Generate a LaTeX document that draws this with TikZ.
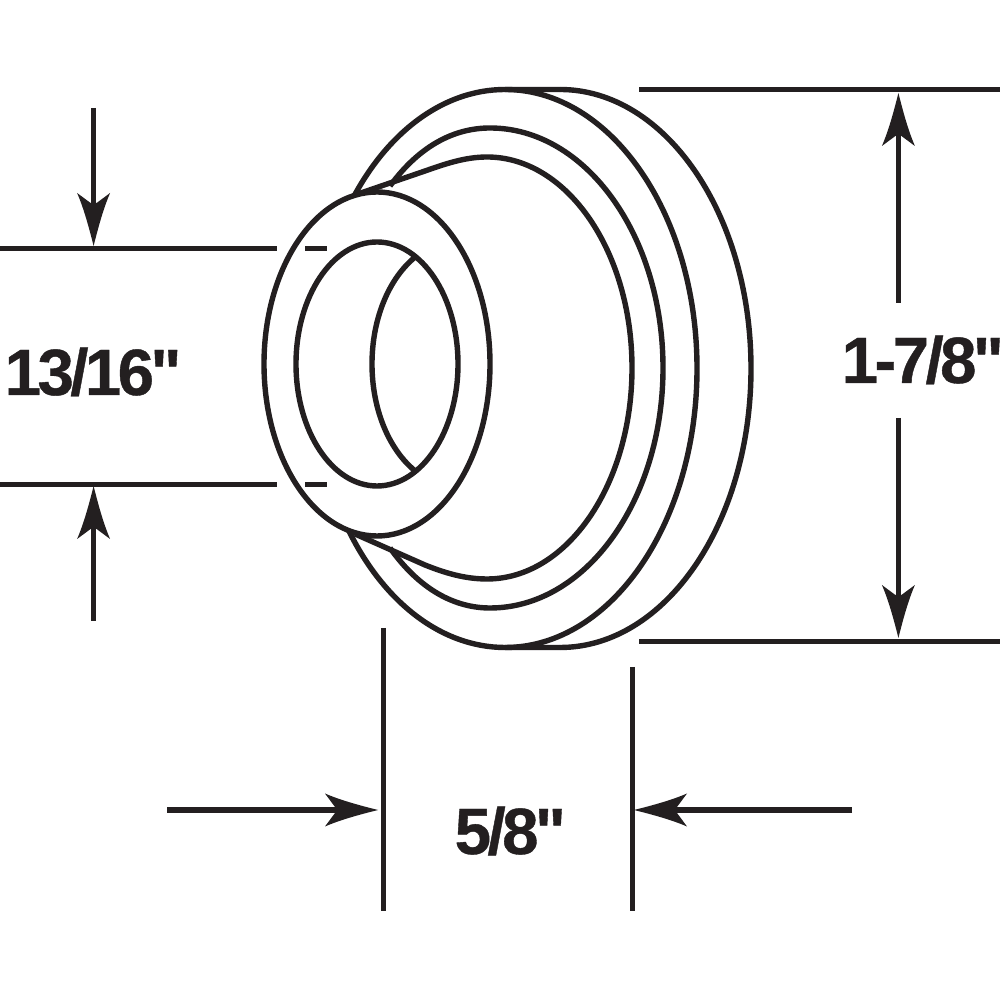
\documentclass[tikz,border=0pt]{standalone}
\usepackage{fontspec}
\setmainfont{Liberation Sans}
\newfontfamily\dimfont[LetterSpace=-5.5,FakeBold=0.6]{Liberation Sans Bold}
\definecolor{ink}{HTML}{231F20}
\tikzset{
  part/.style={draw=ink,line width=0.054cm,line cap=butt,line join=round},
  dimline/.style={draw=ink,line width=0.054cm},
  dimtext/.style={inner sep=0pt,anchor=base west,text=ink,font=\fontsize{18.6}{20}\selectfont\dimfont},
  pics/headtip/.style={code={
    \fill[ink] (0,0) .. controls (-20,5) and (-38,10) .. (-53,16.5)
      -- (-43,3) -- (-43,-3) -- (-53,-16.5)
      .. controls (-38,-10) and (-20,-5) .. (0,0) -- cycle;
  }}
}
\begin{document}
\begin{tikzpicture}[x=0.01cm,y=0.01cm]
\useasboundingbox (0,0) rectangle (1000,1000);
\fill[white] (0,0) rectangle (1000,1000);

% flange
\draw[part] (560,910.5) -- (505,910.5)
  arc[start angle=90,end angle=146,x radius=192,y radius=279];
\draw[part] (560,352.5) -- (505,352.5)
  arc[start angle=-90,end angle=-146,x radius=192,y radius=279];
\draw[part] (505,910.5) arc[start angle=90,end angle=-90,x radius=192,y radius=279];
\draw[part] (560,910.5) arc[start angle=90,end angle=-90,x radius=191,y radius=279];
% step
\draw[part] (390,814) .. controls (420,855) and (455,872) .. (490,872)
  arc[start angle=90,end angle=-90,x radius=173,y radius=240]
  .. controls (455,392) and (420,410) .. (390,452);
% cone
\draw[part] (355,805) -- (425,829) .. controls (445,836) and (465,843) .. (487,843)
  arc[start angle=90,end angle=-90,x radius=145,y radius=211]
  .. controls (465,421) and (445,427) .. (425,435) -- (355,466);
% front face
\draw[part,fill=white] (377,636) ellipse[x radius=113,y radius=172];
\draw[part] (377,636) ellipse[x radius=81,y radius=122];
\draw[part] (414,742) .. controls (388,720) and (372,680) .. (372,636)
  .. controls (372,592) and (388,552) .. (414,530);

% extension lines
\coordinate (la1) at (0,751.5);   \coordinate (la2) at (277,751.5);
\coordinate (la3) at (305,751.5); \coordinate (la4) at (327,751.5);
\coordinate (lb1) at (0,515.5);   \coordinate (lb2) at (277,515.5);
\coordinate (lb3) at (305,515.5); \coordinate (lb4) at (327,515.5);
\coordinate (ra1) at (639,910.5); \coordinate (ra2) at (1000,910.5);
\coordinate (rb1) at (639,358.5); \coordinate (rb2) at (1000,358.5);
\coordinate (ba1) at (383.5,372); \coordinate (ba2) at (383.5,89);
\coordinate (bb1) at (632.3,333); \coordinate (bb2) at (632.3,89);
\draw[dimline] (la1)--(la2) (la3)--(la4) (lb1)--(lb2) (lb3)--(lb4)
  (ra1)--(ra2) (rb1)--(rb2) (ba1)--(ba2) (bb1)--(bb2);

% dimension arrows
\coordinate (a1) at (93.6,892);  \coordinate (a1t) at (93.6,754);
\coordinate (a2) at (93.6,379);  \coordinate (a2t) at (93.6,514);
\coordinate (a3) at (898.4,697); \coordinate (a3t) at (898.4,907);
\coordinate (a4) at (898.4,582); \coordinate (a4t) at (898.4,362);
\coordinate (a5) at (167,190); \coordinate (a5t) at (378,190);
\coordinate (a6) at (852,190); \coordinate (a6t) at (634,190);
\draw[dimline] (a1)--([yshift=0.4cm]a1t) (a2)--([yshift=-0.4cm]a2t)
  (a3)--([yshift=-0.4cm]a3t) (a4)--([yshift=0.4cm]a4t)
  (a5)--([xshift=-0.4cm]a5t) (a6)--([xshift=0.4cm]a6t);
\pic[rotate=-90] at (a1t) {headtip};
\pic[rotate=90]  at (a2t) {headtip};
\pic[rotate=90]  at (a3t) {headtip};
\pic[rotate=-90] at (a4t) {headtip};
\pic             at (a5t) {headtip};
\pic[rotate=180] at (a6t) {headtip};

% labels
\node[dimtext] (t1) at (4,605) {13/16"};
\node[dimtext] (t2) at (841,617) {1-7/8"};
\node[dimtext] (t3) at (454,146) {5/8"};
\end{tikzpicture}
\end{document}
